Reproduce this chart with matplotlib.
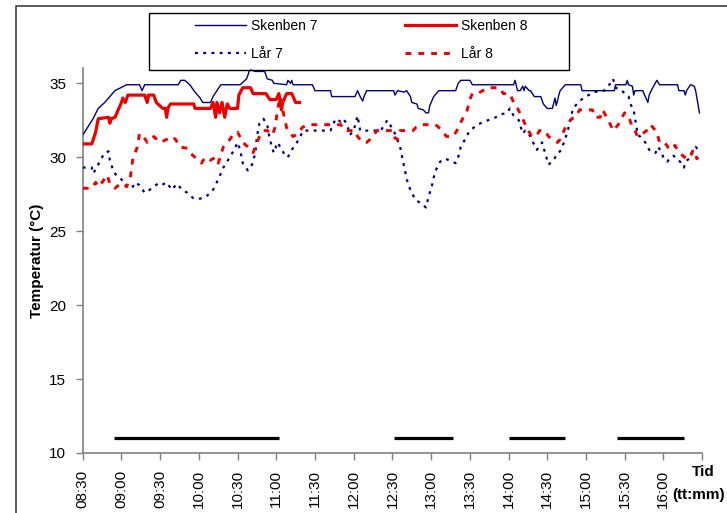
import datetime

import matplotlib
matplotlib.use('Agg')
import matplotlib.pyplot as plt
from matplotlib.lines import Line2D
from matplotlib.patches import Rectangle

plt.rcParams['font.family'] = ['Liberation Sans', 'DejaVu Sans']

# Mätvärden: klockslag och temperatur (°C)
skenben7_tid = [
    '08:30', '08:38', '08:42', '08:47', '08:55', '09:04', '09:14', '09:16', '09:18', '09:44',
    '09:46', '09:49', '09:53', '09:57', '10:01', '10:03', '10:09', '10:11', '10:17', '10:32',
    '10:37', '10:39', '10:40', '10:44', '10:51', '10:53', '10:57', '10:58', '11:08', '11:09',
    '11:11', '11:12', '11:13', '11:28', '11:30', '11:42', '11:43', '12:01', '12:03', '12:05',
    '12:07', '12:08', '12:10', '12:31', '12:32', '12:34', '12:39', '12:41', '12:44', '12:45',
    '12:49', '12:50', '12:54', '12:56', '12:58', '12:59', '13:02', '13:06', '13:19', '13:21',
    '13:23', '13:30', '13:32', '14:04', '14:05', '14:07', '14:09', '14:11', '14:12', '14:13',
    '14:16', '14:17', '14:20', '14:25', '14:27', '14:30', '14:34', '14:36', '14:37', '14:39',
    '14:40', '14:44', '14:56', '14:57', '15:22', '15:23', '15:31', '15:32', '15:33', '15:36',
    '15:37', '15:38', '15:44', '15:46', '15:48', '15:49', '15:50', '15:53', '15:55', '15:57',
    '16:11', '16:12', '16:16', '16:17', '16:18', '16:21', '16:24', '16:25', '16:28',
]
skenben7_temp = [
    31.5, 32.6, 33.3, 33.7, 34.5, 34.9, 34.9, 34.5, 34.9, 34.9,
    35.2, 35.2, 34.9, 34.4, 34.0, 33.7, 33.7, 34.1, 34.9, 34.9,
    35.3, 35.8, 35.9, 35.8, 35.8, 35.3, 35.2, 35.0, 34.9, 35.2,
    35.0, 35.2, 34.9, 34.9, 34.5, 34.5, 34.1, 34.1, 34.5, 34.1,
    33.8, 34.1, 34.5, 34.5, 34.2, 34.5, 34.4, 34.5, 34.1, 33.7,
    33.6, 33.3, 33.2, 33.0, 33.0, 33.5, 34.1, 34.5, 34.5, 35.0,
    35.2, 35.2, 34.9, 34.9, 35.2, 34.5, 34.5, 34.8, 34.5, 34.8,
    34.5, 34.5, 34.1, 34.1, 33.6, 33.3, 33.3, 34.0, 33.5, 34.2,
    34.5, 34.9, 34.9, 34.5, 34.5, 34.9, 34.9, 35.2, 34.9, 34.8,
    34.2, 34.5, 34.5, 34.1, 33.7, 34.2, 34.4, 34.9, 35.2, 34.9,
    34.9, 34.5, 34.5, 34.2, 34.5, 34.9, 34.8, 34.5, 33.0,
]

skenben8_tid = [
    '08:30', '08:37', '08:40', '08:42', '08:50', '08:51', '08:52', '08:55', '08:58', '09:00',
    '09:01', '09:03', '09:05', '09:18', '09:20', '09:21', '09:25', '09:27', '09:32', '09:34',
    '09:35', '09:36', '09:38', '09:56', '09:57', '10:09', '10:11', '10:13', '10:14', '10:16',
    '10:18', '10:20', '10:22', '10:24', '10:30', '10:31', '10:34', '10:40', '10:42', '10:52',
    '10:55', '11:00', '11:02', '11:04', '11:05', '11:08', '11:12', '11:15', '11:18',
]
skenben8_temp = [
    30.9, 30.9, 31.7, 32.6, 32.7, 32.3, 32.6, 32.7, 33.3, 33.7,
    34.0, 33.7, 34.2, 34.2, 33.7, 34.2, 34.2, 33.7, 33.3, 33.3,
    32.7, 33.3, 33.6, 33.6, 33.3, 33.3, 33.7, 32.7, 33.7, 33.0,
    33.7, 32.7, 33.6, 33.3, 33.3, 34.2, 34.7, 34.7, 34.3, 34.3,
    33.9, 33.9, 34.3, 33.2, 33.7, 34.3, 34.3, 33.7, 33.7,
]

lar7_tid = [
    '08:30', '08:37', '08:38', '08:41', '08:43', '08:47', '08:50', '08:51', '08:54', '08:57',
    '09:00', '09:04', '09:08', '09:11', '09:14', '09:18', '09:22', '09:28', '09:31', '09:35',
    '09:39', '09:43', '09:47', '09:51', '09:56', '10:01', '10:05', '10:09', '10:11', '10:15',
    '10:19', '10:24', '10:28', '10:30', '10:32', '10:34', '10:38', '10:42', '10:44', '10:45',
    '10:47', '10:50', '10:53', '10:55', '10:58', '11:01', '11:03', '11:07', '11:09', '11:12',
    '11:16', '11:21', '11:26', '11:42', '11:46', '11:50', '11:52', '11:55', '11:57', '12:00',
    '12:03', '12:05', '12:13', '12:21', '12:26', '12:31', '12:36', '12:38', '12:40', '12:42',
    '12:45', '12:48', '12:52', '12:56', '12:58', '13:01', '13:03', '13:07', '13:11', '13:19',
    '13:21', '13:23', '13:25', '13:28', '13:30', '13:36', '13:41', '13:44', '13:48', '13:54',
    '13:59', '14:01', '14:04', '14:08', '14:11', '14:13', '14:17', '14:19', '14:22', '14:26',
    '14:29', '14:31', '14:35', '14:38', '14:40', '14:43', '14:46', '14:48', '14:50', '14:54',
    '14:58', '15:02', '15:06', '15:14', '15:19', '15:21', '15:23', '15:28', '15:31', '15:33',
    '15:35', '15:37', '15:38', '15:39', '15:40', '15:42', '15:46', '15:49', '15:52', '15:54',
    '15:56', '15:58', '16:00', '16:03', '16:06', '16:08', '16:11', '16:13', '16:16', '16:17',
    '16:20', '16:23', '16:25', '16:27', '16:29',
]
lar7_temp = [
    29.3, 29.3, 28.9, 29.3, 29.7, 30.3, 30.4, 29.8, 29.0, 28.7,
    28.5, 28.0, 27.9, 28.3, 28.1, 27.6, 27.8, 28.2, 28.1, 28.3,
    27.8, 28.2, 27.8, 27.6, 27.2, 27.2, 27.3, 27.6, 27.8, 28.5,
    29.3, 30.0, 30.6, 31.0, 30.5, 29.6, 29.1, 29.6, 30.5, 31.4,
    32.3, 32.6, 32.2, 31.2, 30.3, 31.0, 30.7, 30.1, 30.0, 30.5,
    31.0, 31.8, 31.8, 31.8, 32.6, 32.4, 32.6, 32.2, 31.5, 31.8,
    32.8, 31.8, 31.8, 31.8, 32.5, 31.8, 30.7, 29.8, 29.0, 28.2,
    27.6, 27.1, 26.9, 26.6, 27.3, 28.2, 29.0, 29.7, 29.9, 29.6,
    30.0, 30.7, 31.0, 31.5, 31.8, 32.2, 32.4, 32.5, 32.6, 32.9,
    33.0, 33.3, 32.8, 32.5, 31.6, 31.8, 31.4, 31.0, 30.5, 31.0,
    30.1, 29.5, 29.8, 30.3, 30.4, 31.0, 31.8, 32.6, 33.3, 33.7,
    34.0, 34.2, 34.4, 34.5, 35.0, 35.3, 34.7, 34.5, 34.2, 34.1,
    33.5, 33.2, 32.6, 32.2, 31.5, 31.4, 31.0, 30.5, 30.3, 30.3,
    30.7, 30.4, 30.0, 29.7, 30.0, 30.1, 29.8, 29.7, 29.3, 29.7,
    29.9, 30.5, 30.7, 30.5, 30.3,
]

lar8_tid = [
    '08:30', '08:37', '08:40', '08:42', '08:45', '08:49', '08:51', '08:55', '08:59', '09:02',
    '09:04', '09:07', '09:09', '09:12', '09:14', '09:17', '09:20', '09:25', '09:30', '09:35',
    '09:39', '09:42', '09:45', '09:51', '09:53', '09:57', '10:02', '10:05', '10:09', '10:13',
    '10:15', '10:19', '10:24', '10:27', '10:30', '10:34', '10:38', '10:42', '10:45', '10:47',
    '10:50', '10:53', '10:57', '10:59', '11:01', '11:03', '11:05', '11:08', '11:11', '11:13',
    '11:17', '11:20', '11:24', '11:50', '11:53', '12:01', '12:03', '12:07', '12:10', '12:14',
    '12:18', '12:30', '12:32', '12:34', '12:36', '12:46', '12:48', '12:51', '13:03', '13:05',
    '13:09', '13:12', '13:17', '13:20', '13:22', '13:25', '13:28', '13:30', '13:32', '13:36',
    '13:40', '13:44', '13:53', '13:56', '14:01', '14:04', '14:07', '14:11', '14:14', '14:18',
    '14:22', '14:24', '14:28', '14:31', '14:34', '14:38', '14:40', '14:42', '14:45', '14:49',
    '14:52', '14:55', '15:05', '15:07', '15:11', '15:13', '15:16', '15:19', '15:21', '15:25',
    '15:28', '15:30', '15:33', '15:36', '15:38', '15:40', '15:44', '15:47', '15:50', '15:52',
    '15:55', '15:57', '16:01', '16:05', '16:09', '16:11', '16:15', '16:18', '16:21', '16:23',
    '16:26', '16:27',
]
lar8_temp = [
    27.9, 27.9, 28.3, 28.0, 28.3, 28.8, 28.2, 27.9, 28.2, 28.2,
    28.0, 28.7, 30.0, 30.6, 31.6, 31.4, 31.0, 31.4, 31.0, 31.2,
    31.4, 31.2, 30.7, 30.6, 30.3, 30.0, 29.6, 30.0, 29.8, 30.0,
    29.6, 30.7, 31.2, 31.6, 31.7, 31.0, 30.7, 30.3, 31.0, 31.4,
    31.8, 31.8, 31.5, 32.0, 33.2, 34.1, 33.2, 32.0, 31.6, 31.4,
    31.6, 32.0, 32.2, 32.2, 31.8, 31.8, 31.4, 31.0, 31.0, 31.3,
    31.8, 31.8, 31.3, 31.2, 31.8, 31.8, 32.0, 32.2, 32.2, 32.1,
    31.7, 31.4, 31.4, 31.8, 32.2, 32.7, 33.2, 33.9, 34.3, 34.3,
    34.5, 34.7, 34.7, 34.3, 34.3, 33.7, 33.3, 32.6, 32.0, 31.4,
    31.5, 31.8, 31.8, 31.4, 31.2, 31.0, 31.2, 31.6, 32.2, 32.6,
    32.7, 33.2, 33.2, 32.7, 32.7, 33.2, 32.7, 32.2, 31.8, 32.2,
    32.7, 33.0, 32.8, 32.0, 31.8, 31.4, 31.6, 31.8, 32.2, 32.0,
    31.7, 31.0, 31.0, 30.5, 30.8, 30.5, 30.1, 29.9, 30.0, 30.5,
    29.9, 30.0,
]

# Perioder som markeras med svarta streck
aktivitet_start = ['08:54', '12:31', '14:00', '15:24']
aktivitet_slut = ['11:02', '13:17', '14:44', '16:16']
aktivitet_niva = 11

x_start = '08:30'
x_slut = '16:30'


def klocka(t):
    return datetime.datetime.strptime(t, '%H:%M')


def tider(lista):
    return [klocka(t) for t in lista]


fig = plt.figure(figsize=(7.27, 5.13), dpi=100)
ax = fig.add_axes([0.1138, 0.117, 0.8519, 0.7495])

navy = '#000080'
rod = '#ee0000'

ax.plot(tider(skenben7_tid), skenben7_temp, color=navy, linewidth=1.0, zorder=3)
ax.plot(tider(skenben8_tid), skenben8_temp, color=rod, linewidth=2.3, zorder=3)
ax.plot(tider(lar7_tid), lar7_temp, color=navy, linewidth=1.6,
        dashes=(1.3, 2.4), zorder=4)
ax.plot(tider(lar8_tid), lar8_temp, color=rod, linewidth=2.1,
        dashes=(2.0, 2.4), zorder=4)

for s, e in zip(aktivitet_start, aktivitet_slut):
    ax.plot([klocka(s), klocka(e)], [aktivitet_niva, aktivitet_niva],
            color='black', linewidth=2.3, solid_capstyle='butt', zorder=2)

# Axlar i Excel-stil
t0 = klocka(x_start)
t1 = klocka(x_slut)
ax.set_xlim(t0, t1)
ax.set_ylim(10, 36)
ax.set_yticks(range(10, 36, 5))

ticks = [t0 + datetime.timedelta(minutes=30 * i) for i in range(17)]
ax.set_xticks(ticks)
ax.set_xticklabels([t.strftime('%H:%M') for t in ticks[:-1]] + [''],
                   rotation=90, fontsize=11)
ax.tick_params(axis='y', labelsize=11)
ax.tick_params(axis='both', direction='out', length=5, width=1,
               color='#808080', pad=7)

for side in ('top', 'right'):
    ax.spines[side].set_visible(False)
for side in ('left', 'bottom'):
    ax.spines[side].set_color('#808080')
    ax.spines[side].set_linewidth(1.2)

ax.set_ylabel('Temperatur (°C)', fontsize=11, fontweight='bold', labelpad=4)

fig.text(703 / 727, 1 - 472 / 513, 'Tid', fontsize=11, fontweight='bold',
         ha='center', va='center')
fig.text(699 / 727, 1 - 495 / 513, '(tt:mm)', fontsize=11, fontweight='bold',
         ha='center', va='center')

# Teckenförklaring med egen ram
handles = [
    Line2D([], [], color=navy, linewidth=1.0),
    Line2D([], [], color=navy, linewidth=1.6, dashes=(1.3, 2.4)),
    Line2D([], [], color=rod, linewidth=2.3),
    Line2D([], [], color=rod, linewidth=2.1, dashes=(2.0, 2.4)),
]
labels = ['Skenben 7', 'Lår 7', 'Skenben 8', 'Lår 8']
leg = fig.legend(handles, labels, ncol=2, frameon=False, fontsize=10,
                 loc='center', bbox_to_anchor=(361 / 727, 1 - 40 / 513),
                 handlelength=3.7, handletextpad=0.35, columnspacing=6.3,
                 labelspacing=1.0)
fig.add_artist(Rectangle((149 / 727, 1 - 70 / 513), 420 / 727, 57 / 513,
                         transform=fig.transFigure, fill=False,
                         edgecolor='black', linewidth=1.0))

# Ram runt diagramytan
fig.add_artist(Rectangle((16 / 727, -0.1), 1.2, 1.1 - 6 / 513,
                         transform=fig.transFigure, fill=False,
                         edgecolor='#404040', linewidth=1.2))

fig.savefig('out.png', dpi=100)
